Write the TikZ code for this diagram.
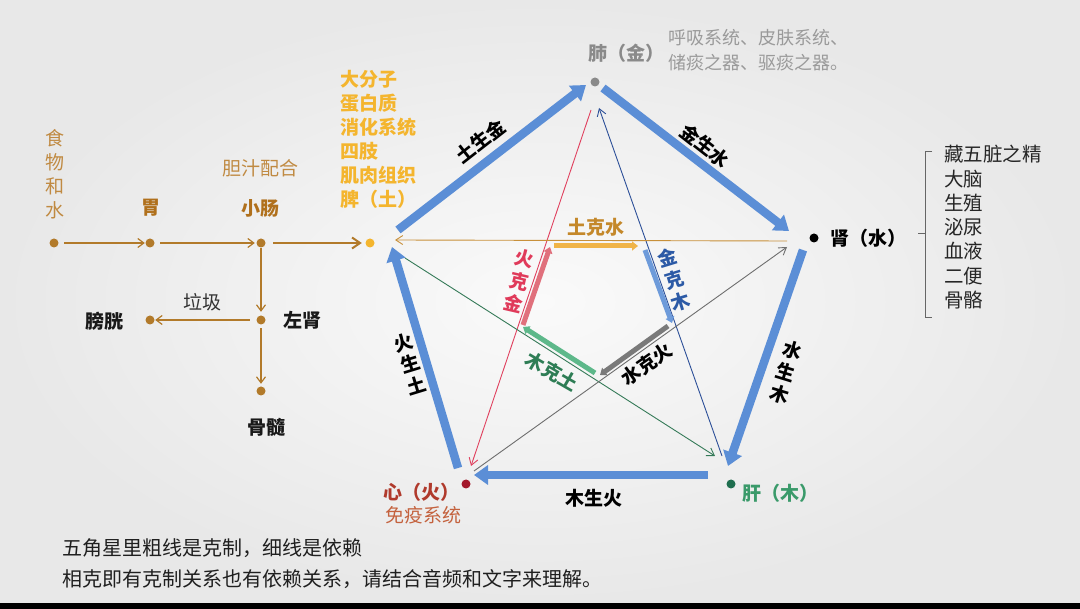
\documentclass[tikz,border=0pt]{standalone}
\usepackage{fontspec}
\setmainfont{Noto Sans CJK SC}
\usetikzlibrary{arrows.meta}
\definecolor{bgin}{HTML}{FAFAFA}
\definecolor{bgout}{HTML}{E8E8E8}
\definecolor{genblue}{HTML}{5B8ED6}
\definecolor{flowbrown}{HTML}{B27A2A}
\definecolor{flowtext}{HTML}{C08A42}
\definecolor{flowbold}{HTML}{B0701C}
\definecolor{piyellow}{HTML}{F4B52E}
\definecolor{feigray}{HTML}{8A8A8A}
\definecolor{feidesc}{HTML}{9A9A9A}
\definecolor{kered}{HTML}{E0405E}
\definecolor{keredfill}{HTML}{E0707C}
\definecolor{keblue}{HTML}{2C4F98}
\definecolor{kebluefill}{HTML}{6E9BDA}
\definecolor{keorange}{HTML}{C8903A}
\definecolor{keorangefill}{HTML}{F0B448}
\definecolor{kegreen}{HTML}{357A58}
\definecolor{kegreenfill}{HTML}{5DB88A}
\definecolor{kegray}{HTML}{6E6E6E}
\definecolor{kegrayfill}{HTML}{7A7A7A}
\definecolor{xinred}{HTML}{A3182B}
\definecolor{xintext}{HTML}{B03A2C}
\definecolor{xindesc}{HTML}{C4623E}
\definecolor{gangreen}{HTML}{1E6E4E}
\definecolor{gantext}{HTML}{3A9A6A}
\definecolor{orangetext}{HTML}{C4882A}
\definecolor{redtext}{HTML}{E03A5A}
\definecolor{bluetext}{HTML}{2C5AA6}
\definecolor{greentext}{HTML}{2E7D55}
\tikzset{
  dotn/.style={circle, fill=#1, inner sep=0pt, minimum size=9pt},
  lab/.style={inner sep=0pt, align=center, font=\fontsize{19}{23}\selectfont},
  blab/.style={inner sep=0pt, align=center, font=\fontsize{19}{23}\selectfont\bfseries},
  gen/.style={draw=genblue, line width=8.5pt, -{Triangle[length=14pt,width=19pt]}},
  dep/.style={line width=0.9pt, -{Straight Barb[length=7pt,width=9pt]}},
  ke/.style={line width=5pt, -{Triangle[length=6pt,width=9pt]}},
  flow/.style={draw=flowbrown, line width=1.2pt, -{Straight Barb[length=6pt,width=9pt]}},
}
\begin{document}
\begin{tikzpicture}[x=1pt,y=-1pt]
% background
\useasboundingbox (0,0) rectangle (1080,609);
\shade[inner color=bgin, outer color=bgout] (0,0) rectangle (1080,603);
\fill[black] (0,603) rectangle (1080,609);

% ---------- digestion flow ----------
\node[dotn=flowbrown] (food) at (54,243) {};
\node[dotn=flowbrown] (wei) at (150,243) {};
\node[dotn=flowbrown] (xc) at (261,243) {};
\node[dotn=piyellow] (pi) at (370,243) {};
\node[dotn=flowbrown] (zs) at (261,320) {};
\node[dotn=flowbrown] (pg) at (150,320) {};
\node[dotn=flowbrown] (gs) at (261,391) {};

\draw[flow, shorten <=5.5pt, shorten >=0.5pt] (food) -- (wei);
\draw[flow, shorten <=5.5pt, shorten >=1.5pt] (wei) -- (xc);
\draw[flow, line width=2pt, -{Straight Barb[length=8pt,width=11pt]}, shorten <=7.5pt, shorten >=3.5pt] (xc) -- (pi);
\draw[flow, shorten <=0.5pt, shorten >=3.5pt] (xc) -- (zs);
\draw[flow, shorten <=6.5pt, shorten >=0.5pt] (zs) -- (pg);
\draw[flow, shorten <=3.5pt, shorten >=2.5pt] (zs) -- (gs);

\node[lab, text=flowtext, font=\fontsize{19}{24}\selectfont] (foodt) at (55,174) {食\\物\\和\\水};
\node[blab, text=flowbold] (weit) at (151,208) {胃};
\node[lab, text=flowtext] (dz) at (260,168) {胆汁配合};
\node[blab, text=flowbold] (xct) at (260,208) {小肠};
\node[lab, text=black!80] (lj) at (202,302) {垃圾};
\node[blab, text=black!90] (pgt) at (104,321) {膀胱};
\node[blab, text=black!90] (zst) at (302,320) {左肾};
\node[blab, text=black!90] (gst) at (266,427) {骨髓};

% spleen text
\node[inner sep=0pt, align=left, anchor=north west, text=piyellow,
      font=\fontsize{19}{24}\selectfont\bfseries] (pit) at (340,70)
      {大分子\\蛋白质\\消化系统\\四肢\\肌肉组织\\脾（土）};

% ---------- five elements ----------
\node[dotn=feigray] (fei) at (595,82) {};
\node[dotn=black] (shen) at (814,238) {};
\node[dotn=xinred] (xin) at (466,484) {};
\node[dotn=gangreen] (gan) at (731,484) {};

\node[blab, text=feigray] (feit) at (626,53) {肺（金）};
\node[inner sep=0pt, align=left, anchor=west, text=feidesc,
      font=\fontsize{18}{25}\selectfont] (feid) at (668,50)
      {呼吸系统、皮肤系统、\\储痰之器、驱痰之器。};

\node[blab, text=black] (shent) at (868,238) {肾（水）};
\node[inner sep=0pt, align=left, anchor=north west, text=black!85,
      font=\fontsize{19.5}{24.33}\selectfont] (shenl) at (944,145)
      {藏五脏之精\\大脑\\生殖\\泌尿\\血液\\二便\\骨骼};
\draw[black!60, line width=0.8pt] (932,151) -- (925,151) -- (925,317) -- (932,317);
\draw[black!60, line width=0.8pt] (925,233) -- (918,233);

\node[blab, text=xintext] (xint) at (421,492) {心（火）};
\node[lab, text=xindesc] (xind) at (423,515) {免疫系统};
\node[blab, text=gantext] (gant) at (780,493) {肝（木）};

% generating cycle (thick blue)
\coordinate (g1a) at (398,230); \coordinate (g1b) at (586,85);
\coordinate (g2a) at (603,88);  \coordinate (g2b) at (789,231);
\coordinate (g3a) at (803,250); \coordinate (g3b) at (728,466);
\coordinate (g4a) at (708,475); \coordinate (g4b) at (474,475);
\coordinate (g5a) at (458,468); \coordinate (g5b) at (392,247);
\draw[gen] (g1a) -- (g1b);
\draw[gen] (g2a) -- (g2b);
\draw[gen] (g3a) -- (g3b);
\draw[gen] (g4a) -- (g4b);
\draw[gen] (g5a) -- (g5b);

\node[blab, rotate=38] (l1) at (480,141) {土生金};
\node[blab, rotate=-38] (l2) at (705,146) {金生水};
\node[blab, rotate=-17] (l3) at (786,372) {水\\生\\木};
\node[blab] (l4) at (594,498) {木生火};
\node[blab, rotate=17] (l5) at (410,364) {火\\生\\土};

% dependence (thin lines)
\coordinate (r1) at (591,110); \coordinate (r2) at (471,466);
\coordinate (b1) at (722,456); \coordinate (b2) at (599,108);
\coordinate (o1) at (787,241); \coordinate (o2) at (395,240);
\coordinate (n1) at (405,258); \coordinate (n2) at (715,456);
\coordinate (k1) at (474,471); \coordinate (k2) at (787,247);
\draw[dep, draw=kered] (r1) -- (r2);
\draw[dep, draw=keblue] (b1) -- (b2);
\draw[dep, draw=keorange] (o1) -- (o2);
\draw[dep, draw=kegreen] (n1) -- (n2);
\draw[dep, draw=kegray] (k1) -- (k2);

% restraint (inner thick)
\coordinate (ka1) at (554,246); \coordinate (ka2) at (638,246);
\coordinate (kb1) at (645,250); \coordinate (kb2) at (672,323);
\coordinate (kc1) at (668,326); \coordinate (kc2) at (600,375);
\coordinate (kd1) at (595,373); \coordinate (kd2) at (523,327);
\coordinate (ke1) at (523,325); \coordinate (ke2) at (550,247);
\draw[ke, draw=keorangefill] (ka1) -- (ka2);
\draw[ke, draw=kebluefill] (kb1) -- (kb2);
\draw[ke, draw=kegrayfill] (kc1) -- (kc2);
\draw[ke, draw=kegreenfill] (kd1) -- (kd2);
\draw[ke, draw=keredfill] (ke1) -- (ke2);

\node[blab, text=orangetext] (t1) at (596,227) {土克水};
\node[blab, text=bluetext, rotate=17] (t2) at (674,280) {金\\克\\木};
\node[blab, text=black, rotate=35] (t3) at (647,364) {水克火};
\node[blab, text=greentext, rotate=-30] (t4) at (552,372) {木克土};
\node[blab, text=redtext, rotate=-13] (t5) at (519,281) {火\\克\\金};

% bottom notes
\node[inner sep=0pt, anchor=west, text=black!88, font=\fontsize{20}{24}\selectfont] (n1t) at (62,548) {五角星里粗线是克制，细线是依赖};
\node[inner sep=0pt, anchor=west, text=black!88, font=\fontsize{20}{24}\selectfont] (n2t) at (62,579) {相克即有克制关系也有依赖关系，请结合音频和文字来理解。};
\end{tikzpicture}
\end{document}
